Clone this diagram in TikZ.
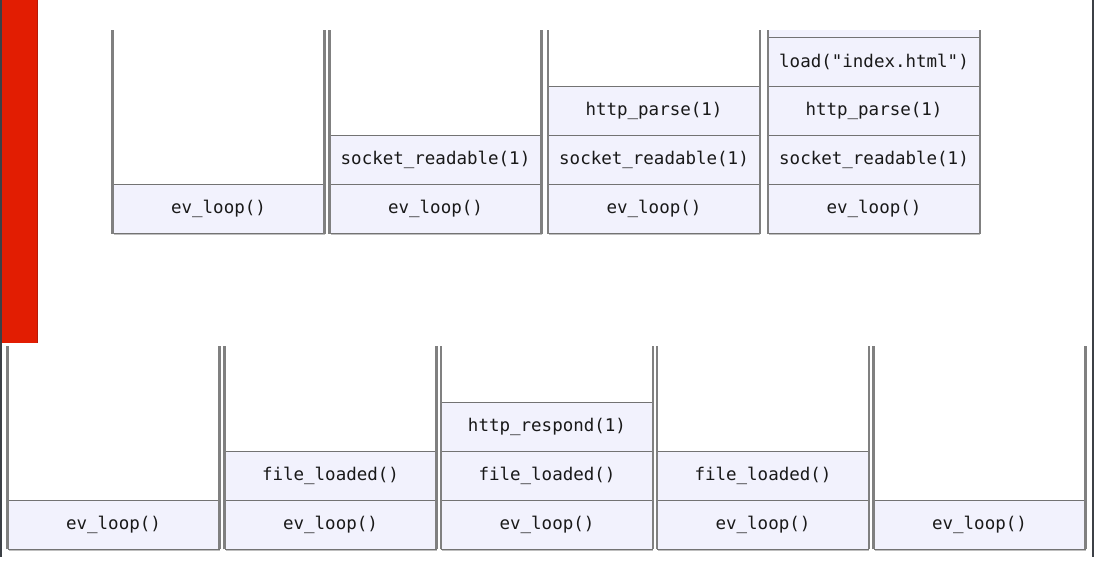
\documentclass[tikz,border=0pt]{standalone}
\usepackage{fontspec}
\setmonofont{DejaVu Sans Mono}
\usetikzlibrary{shadows}
\definecolor{lav}{HTML}{F2F2FD}
\definecolor{flag}{HTML}{E21D02}
\definecolor{flagedge}{HTML}{B51A08}
\definecolor{rim}{HTML}{3C4046}

\begin{document}
\begin{tikzpicture}[
  x=1pt, y=-1pt,
  slot/.style={draw=black!55, fill=lav, line width=0.8pt, inner sep=0pt,
               minimum width=211pt, minimum height=49pt,
               font=\ttfamily\fontsize{17.5}{20}\selectfont, text=black!90},
  base/.style={slot, drop shadow={shadow xshift=0.6pt, shadow yshift=-1.8pt,
               opacity=0.5}},
  wall/.style={draw=black!50, line width=2.6pt},
  side/.style={draw=rim, line width=2.2pt}]

\useasboundingbox (0,0) rectangle (1100,562);

% screen edges and red bar
\draw[side] (1,0) -- (1,557);
\draw[side] (1093,0) -- (1093,557);
\fill[flag] (2,0) rectangle (38,343);
\draw[flagedge, line width=1pt] (37.5,0) -- (37.5,343);

\coordinate (toprim) at (0,30);
\coordinate (botrim) at (0,346);

% top row
\node[base] (t1a) at (218.5,209) {ev\_loop()};

\node[base] (t2a) at (435.5,209) {ev\_loop()};
\node[slot] (t2b) at (435.5,160) {socket\_readable(1)};

\node[base] (t3a) at (654,209)   {ev\_loop()};
\node[slot] (t3b) at (654,160)   {socket\_readable(1)};
\node[slot] (t3c) at (654,111)   {http\_parse(1)};

\node[base] (t4a) at (874,209)   {ev\_loop()};
\node[slot] (t4b) at (874,160)   {socket\_readable(1)};
\node[slot] (t4c) at (874,111)   {http\_parse(1)};
\node[slot] (t4d) at (874,62)    {load("index.html")};
\node[slot, draw=none, minimum height=7pt] (t4e) at (874,33.5) {};

% bottom row
\node[base] (b1a) at (113.5,524.5) {ev\_loop()};

\node[base] (b2a) at (330.5,524.5) {ev\_loop()};
\node[slot] (b2b) at (330.5,475.5) {file\_loaded()};

\node[base] (b3a) at (547,524.5)   {ev\_loop()};
\node[slot] (b3b) at (547,475.5)   {file\_loaded()};
\node[slot] (b3c) at (547,426.5)   {http\_respond(1)};

\node[base] (b4a) at (763,524.5)   {ev\_loop()};
\node[slot] (b4b) at (763,475.5)   {file\_loaded()};

\node[base] (b5a) at (979.5,524.5) {ev\_loop()};

% stack walls
\foreach \s in {t1a,t2a,t3a,t4a}{
  \draw[wall] (\s.south west) -- (\s.south west |- toprim);
  \draw[wall] (\s.south east) -- (\s.south east |- toprim);
}
\foreach \s in {b1a,b2a,b3a,b4a,b5a}{
  \draw[wall] (\s.south west) -- (\s.south west |- botrim);
  \draw[wall] (\s.south east) -- (\s.south east |- botrim);
}
\end{tikzpicture}
\end{document}
